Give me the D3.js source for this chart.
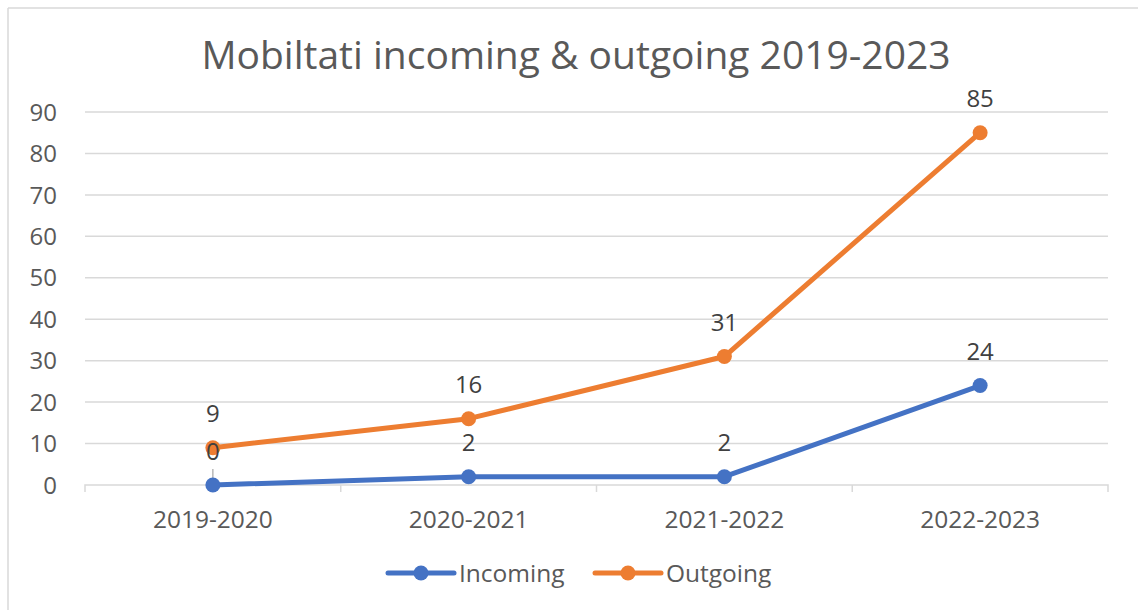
<!DOCTYPE html>
<html><head><meta charset="utf-8">
<script src="https://cdn.jsdelivr.net/npm/d3@7"></script>
<style>body{margin:0;background:#fff}svg{display:block}text{font-family:"Open Sans",sans-serif;fill:#595959}</style>
</head><body><svg id="c" width="1138" height="610"></svg>
<script>
const categories = ["2019-2020","2020-2021","2021-2022","2022-2023"];
const incoming = [0, 2, 2, 24];
const outgoing = [9, 16, 31, 85];
const yTicks = [0,10,20,30,40,50,60,70,80,90];
const title = "Mobiltati incoming & outgoing 2019-2023";
const seriesNames = ["Incoming","Outgoing"];
const colors = ["#4472C4","#ED7D31"];

const svg = d3.select("#c");
svg.append("line").attr("x1",8).attr("x2",1138).attr("y1",8).attr("y2",8).attr("stroke","#d9d9d9").attr("stroke-width",1.5);
svg.append("line").attr("x1",8).attr("x2",8).attr("y1",8).attr("y2",610).attr("stroke","#d9d9d9").attr("stroke-width",1.5);

const x = d3.scaleBand().domain(categories).range([85,1108]);
const y = d3.scaleLinear().domain([0,90]).range([485,112]);

svg.append("text").attr("x",576).attr("y",55).attr("dy","0.36em").attr("text-anchor","middle").style("font-size","39px").text(title);

const grid = svg.append("g");
yTicks.forEach(t=>{
  if(t>0) grid.append("line").attr("x1",85).attr("x2",1108).attr("y1",y(t)).attr("y2",y(t)).attr("stroke","#d9d9d9").attr("stroke-width",1.5);
  svg.append("text").attr("x",57).attr("y",y(t)).attr("dy","0.36em").attr("text-anchor","end").style("font-size","24px").text(t);
});
const xAxis = svg.append("g").attr("transform","translate(0,485)")
  .call(d3.axisBottom(x).tickSize(0).tickPadding(0));
xAxis.select(".domain").attr("stroke","#d9d9d9").attr("stroke-width",1.5).attr("d","M85,7V0H1108V7");
xAxis.selectAll("text").attr("dy",null).attr("y",33).attr("dominant-baseline","central").style("font-size","24.5px").attr("fill","#595959").style("font-family",'"Open Sans",sans-serif');
categories.slice(1).forEach(c=>{
  svg.append("line").attr("x1",x(c)).attr("x2",x(c)).attr("y1",485).attr("y2",492).attr("stroke","#d9d9d9").attr("stroke-width",1.5);
});

const cx = c => x(c)+x.bandwidth()/2;
// small leader mark above the first incoming point
svg.append("line").attr("x1",cx(categories[0])).attr("x2",cx(categories[0])).attr("y1",y(incoming[0])-16).attr("y2",y(incoming[0])-6).attr("stroke","#a6a6a6").attr("stroke-width",1.2);

const line = d3.line().x((d,i)=>cx(categories[i])).y(d=>y(d));
[incoming,outgoing].forEach((data,si)=>{
  svg.append("path").datum(data).attr("d",line).attr("fill","none").attr("stroke",colors[si]).attr("stroke-width",5).attr("stroke-linejoin","round").attr("stroke-linecap","round");
});
[incoming,outgoing].forEach((data,si)=>{
  data.forEach((v,i)=>{
    svg.append("circle").attr("cx",cx(categories[i])).attr("cy",y(v)).attr("r",7.5).attr("fill",colors[si]);
  });
});
[incoming,outgoing].forEach((data,si)=>{
  data.forEach((v,i)=>{
    svg.append("text").attr("x",cx(categories[i])).attr("y",y(v)-34).attr("dy","0.36em").attr("text-anchor","middle").style("font-size","24px").style("fill","#404040").text(v);
  });
});

// legend
const legX = [388, 595];
seriesNames.forEach((n,i)=>{
  const g = svg.append("g");
  g.append("line").attr("x1",legX[i]).attr("x2",legX[i]+66).attr("y1",573).attr("y2",573).attr("stroke",colors[i]).attr("stroke-width",5).attr("stroke-linecap","round");
  g.append("circle").attr("cx",legX[i]+33).attr("cy",573).attr("r",7.5).attr("fill",colors[i]);
  g.append("text").attr("x",legX[i]+71).attr("y",573).attr("dy","0.36em").style("font-size","24.5px").text(n);
});
</script></body></html>
